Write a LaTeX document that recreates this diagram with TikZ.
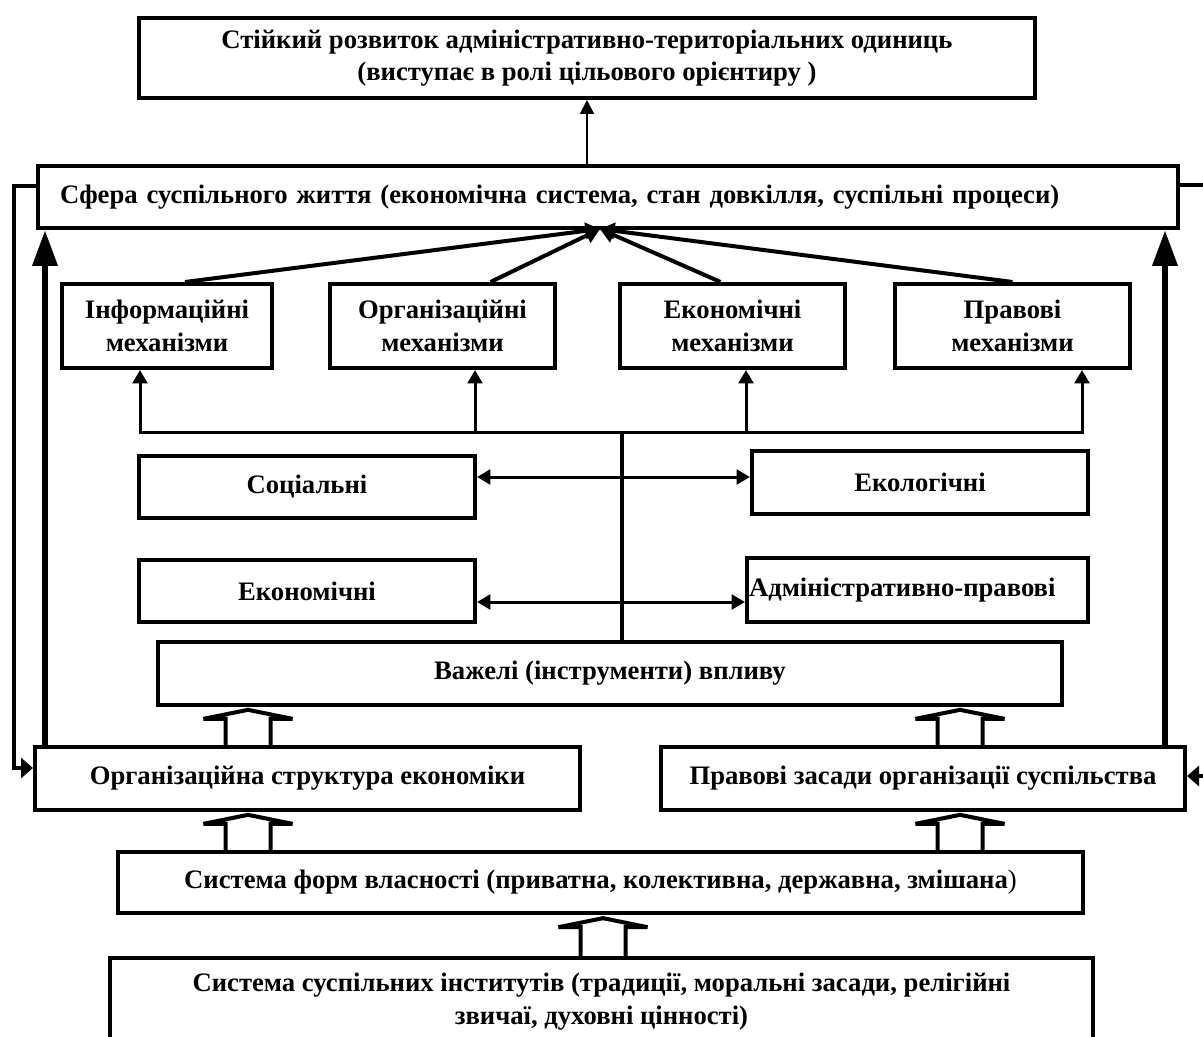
\documentclass[tikz,border=0pt]{standalone}
\usepackage{fontspec}
\setmainfont{Liberation Serif}
\usetikzlibrary{arrows.meta,calc}

% hollow up arrow: #1 foot, #2 tip
\newcommand\hollowup[2]{%
  \draw[hol] ($(#1)+(-22.5,0)$) -- ($(#2)+(-22.5,12)$) -- ($(#2)+(-44.5,12)$) -- ($(#2)+(0,3)$) -- ($(#2)+(44.5,12)$) -- ($(#2)+(22.5,12)$) -- ($(#1)+(22.5,0)$);}

\begin{document}
\begin{tikzpicture}[x=0.75pt,y=0.75pt,yscale=-1,xscale=1,
  blk/.style={draw, line width=3pt, inner sep=0pt, align=center, font=\bfseries\fontsize{20}{24.5}\selectfont},
  lnk/.style={line width=2.25pt, -{Triangle[length=10pt,width=11pt]}},
  dbl/.style={line width=2.25pt, {Triangle[length=10pt,width=11pt]}-{Triangle[length=10pt,width=11pt]}},
  mlnk/.style={line width=3pt, -{Triangle[length=11pt,width=12pt]}},
  thk/.style={line width=5pt, -{Triangle[length=27pt,width=18pt]}},
  fbk/.style={line width=3pt, line join=miter, -{Triangle[length=9pt,width=15pt]}},
  hol/.style={line width=3pt, line join=miter}]
\useasboundingbox (0,0) rectangle (1203,1037);

%Boxes
\node[blk, minimum width=672pt, minimum height=60pt] (goal) at (587,58) {Стійкий розвиток адміністративно-територіальних одиниць\\(виступає в ролі цільового орієнтиру )};
\node[blk, minimum width=855pt, minimum height=46.5pt, text width=822pt, inner xsep=16.5pt, align=left] (sphere) at (608,197) {Сфера суспільного життя (економічна система, стан довкілля, суспільні процеси)};

\node[blk, minimum width=157.5pt, minimum height=63pt] (m1) at (167,326) {Інформаційні\\механізми};
\node[blk, minimum width=168.75pt, minimum height=63pt] (m2) at (442.5,326) {Організаційні\\механізми};
\node[blk, minimum width=168.75pt, minimum height=63pt] (m3) at (732.5,326) {Економічні\\механізми};
\node[blk, minimum width=176.25pt, minimum height=63pt] (m4) at (1012.5,326) {Правові\\механізми};

\node[blk, minimum width=252pt, minimum height=46.5pt] (soc) at (307,487) {Соціальні};
\node[blk, minimum width=252pt, minimum height=47pt] (eco) at (920,482.5) {Екологічні};
\node[blk, minimum width=252pt, minimum height=46.5pt] (econ) at (307,591) {Економічні};
\node[blk, minimum width=255.75pt, minimum height=48pt, text width=252.75pt, inner xsep=1.5pt, align=left] (adm) at (917.5,590) {Адміністративно-правові};

\node[blk, minimum width=678pt, minimum height=47pt] (vaz) at (610,673.5) {Важелі (інструменти) впливу};
\node[blk, minimum width=408.75pt, minimum height=47pt] (org) at (307.5,778.5) {Організаційна структура економіки};
\node[blk, minimum width=393pt, minimum height=47pt] (legal) at (923,778.5) {Правові засади організації суспільства};
\node[blk, minimum width=723.75pt, minimum height=46pt] (prop) at (600.5,882.5) {Система форм власності (приватна, колективна, державна, змішана{\mdseries)}};
\node[blk, minimum width=737.25pt, minimum height=65pt] (inst) at (601.5,1001.5) {Система суспільних інститутів (традиції, моральні засади, релігійні\\звичаї, духовні цінності)};

%Helper points
\coordinate (apex) at (600,229);
\coordinate (b1) at (140,433);
\coordinate (b2) at (475,433);
\coordinate (b3) at (746,433);
\coordinate (b4) at (1082,433);
\coordinate (hub) at (622,433);
\coordinate (r1) at (0,477);
\coordinate (r2) at (0,602);
\coordinate (tl) at (45,0);
\coordinate (tr) at (1165,0);
\coordinate (fl1) at (14,186);
\coordinate (fl2) at (14,768);
\coordinate (fr1) at (1203,185);
\coordinate (fr2) at (1203,776);
\coordinate (ha) at (248,0);
\coordinate (hb) at (960,0);
\coordinate (hc) at (603,0);

%Connectors
\draw[line width=1.5pt, -{Triangle[length=10.5pt,width=10.5pt]}] (goal.south |- sphere.north) -- (goal.south);

\draw[mlnk] ($(m1.north)+(18,0)$) -- (apex);
\draw[mlnk] ($(m2.north)+(48,0)$) -- (apex);
\draw[mlnk] ($(m3.north)+(-12,0)$) -- (apex);
\draw[mlnk] (m4.north) -- (apex);

\draw[dbl, line join=miter] (b1 |- m1.south) -- (b1) -- (b4) -- (b4 |- m4.south);
\draw[lnk] (b2) -- (b2 |- m2.south);
\draw[lnk] (b3) -- (b3 |- m3.south);
\draw[line width=3pt] (hub) -- (hub |- vaz.north);

\draw[dbl] (soc.east |- r1) -- (eco.west |- r1);
\draw[dbl] (econ.east |- r2) -- (adm.west |- r2);

\draw[thk] (org.north -| tl) -- (sphere.south -| tl);
\draw[thk] (legal.north -| tr) -- (sphere.south -| tr);

\draw[fbk] (sphere.west |- fl1) -- (fl1) -- (fl2) -- (org.west |- fl2);
\draw[line width=3pt] (sphere.east |- fr1) -- (fr1);
\draw[fbk] (fr2) -- (legal.east |- fr2);

\hollowup{org.north -| ha}{vaz.south -| ha}
\hollowup{legal.north -| hb}{vaz.south -| hb}
\hollowup{prop.north -| ha}{org.south -| ha}
\hollowup{prop.north -| hb}{legal.south -| hb}
\hollowup{inst.north -| hc}{prop.south -| hc}
\end{tikzpicture}
\end{document}
